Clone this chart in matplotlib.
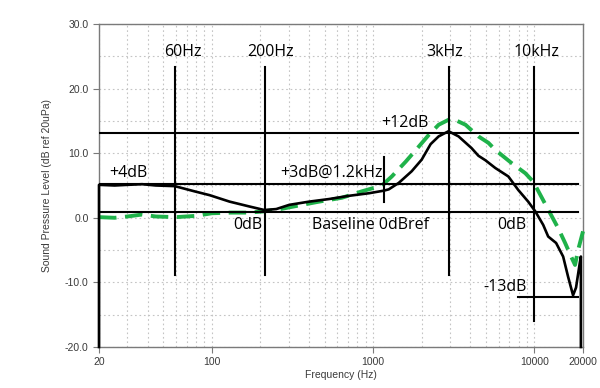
import matplotlib
matplotlib.use("Agg")

import matplotlib.pyplot as plt
from matplotlib.ticker import FixedLocator, LogLocator, NullFormatter

# measured response (black, solid)
black_freq = [20, 20, 25, 30, 37, 45, 59, 78, 97, 129, 171, 212, 251, 302, 401,
              533, 708, 942, 1166, 1250, 1442, 1734, 2000, 2272, 2548, 2935,
              3384, 4070, 4496, 4968, 5724, 6888, 7938, 9146, 10116, 11330,
              12164, 13620, 15058, 16152, 17348, 18106, 19150, 19400, 19400]
black_db = [-20, 5.1, 5.0, 5.1, 5.2, 5.0, 4.9, 4.1, 3.5, 2.5, 1.75, 1.2, 1.35,
            2.0, 2.5, 2.9, 3.4, 3.8, 4.2, 4.4, 5.4, 7.2, 9.0, 11.4, 12.6, 13.4,
            12.6, 10.8, 9.6, 8.9, 7.7, 6.4, 4.3, 2.5, 1.0, -1.1, -2.9, -3.9,
            -6.0, -9.1, -12.0, -10.8, -6.8, -6.0, -20]

# target response (green, dashed)
green_freq = [20, 25, 30, 37, 45, 60, 80, 100, 130, 170, 212, 273, 363, 463,
              641, 853, 1086, 1133, 1306, 1594, 1916, 2208, 2548, 3062, 3738,
              4496, 5184, 5724, 7190, 8776, 9824, 11008, 12514, 14024, 15494,
              16872, 17850, 18638, 20000]
green_db = [0.1, 0.0, 0.2, 0.5, 0.2, 0.1, 0.3, 0.7, 0.8, 0.8, 1.0, 1.4, 2.0,
            2.5, 3.1, 4.1, 4.85, 5.0, 6.4, 8.7, 11.0, 12.8, 14.4, 15.4, 14.4,
            12.6, 11.6, 10.5, 8.5, 6.9, 5.6, 3.3, 0.7, -1.6, -3.9, -6.0, -7.3,
            -5.0, -2.1]

# reference lines drawn over the chart
hline_levels = [13.1, 5.3, 0.9]
hline_end = 18600
vline_freqs = [59, 214, 2950, 10000]
vline_bottoms = [-8.8, -8.8, -8.8, -16.0]
vline_top = 23.4

labels = ["60Hz", "200Hz", "3kHz", "10kHz", "+12dB", "+4dB", "+3dB@1.2kHz",
          "0dB", "Baseline 0dBref", "0dB", "-13dB"]
label_freqs = [66, 233, 2762, 10236, 1570, 30.6, 556, 168, 960, 7280, 6540]
label_db = [25.0, 25.0, 25.0, 25.0, 14.1, 6.3, 6.4, -1.75, -1.75, -1.75, -11.4]

fig = plt.figure(figsize=(6, 3.88), dpi=100)
ax = fig.add_axes([0.165, 0.1057, 0.8067, 0.8325])

ax.set_xscale("log")
ax.set_xlim(20, 20000)
ax.set_ylim(-20, 30)

ax.xaxis.set_major_locator(FixedLocator([20, 100, 1000, 10000, 20000]))
ax.xaxis.set_major_formatter(plt.FuncFormatter(lambda v, p: f"{v:.0f}"))
ax.xaxis.set_minor_locator(LogLocator(base=10, subs=range(2, 10), numticks=20))
ax.xaxis.set_minor_formatter(NullFormatter())
ax.set_yticks([-20, -10, 0, 10, 20, 30])
ax.yaxis.set_major_formatter(plt.FuncFormatter(lambda v, p: f"{v:.1f}"))
ax.set_yticks(range(-20, 31, 5), minor=True)

ax.grid(True, which="both", linestyle=(0, (1.5, 2.5)), color="#c4c4c4", lw=0.8)
ax.set_axisbelow(True)

for s in ax.spines.values():
    s.set_color("#7a7a7a")
    s.set_linewidth(1.0)

ax.tick_params(axis="both", which="major", labelsize=7.5, labelcolor="#3a3a3a",
               color="#7a7a7a", length=4, direction="out")
ax.tick_params(axis="both", which="minor", length=0)
for t in ax.get_xticklabels() + ax.get_yticklabels():
    t.set_family("Liberation Sans")

ax.set_xlabel("Frequency (Hz)", fontsize=7.5, color="#3a3a3a",
              family="Liberation Sans", labelpad=2)
ax.set_ylabel("Sound Pressure Level (dB ref 20uPa)", fontsize=7.5,
              color="#3a3a3a", family="Liberation Sans", labelpad=9)

ax.plot(green_freq, green_db, color="#1fb24a", lw=2.8,
        dashes=(4.5, 2.2), clip_on=False, zorder=3)
ax.plot(black_freq, black_db, color="black", lw=1.9, clip_on=False, zorder=4)

for lvl in hline_levels:
    ax.plot([20, hline_end], [lvl, lvl], color="black", lw=1.5, zorder=5)
ax.plot([7938, hline_end], [-12.2, -12.2], color="black", lw=1.5, zorder=5)
for f, b in zip(vline_freqs, vline_bottoms):
    ax.plot([f, f], [b, vline_top], color="black", lw=1.5, zorder=5)
ax.plot([1160, 1160], [2.5, 9.4], color="black", lw=1.5, zorder=5)

for txt, f, d in zip(labels, label_freqs, label_db):
    ax.text(f, d, txt, ha="center", va="baseline", fontsize=11.5,
            family="Open Sans", color="black", zorder=6)

plt.savefig("out.png", dpi=100)
plt.close()
